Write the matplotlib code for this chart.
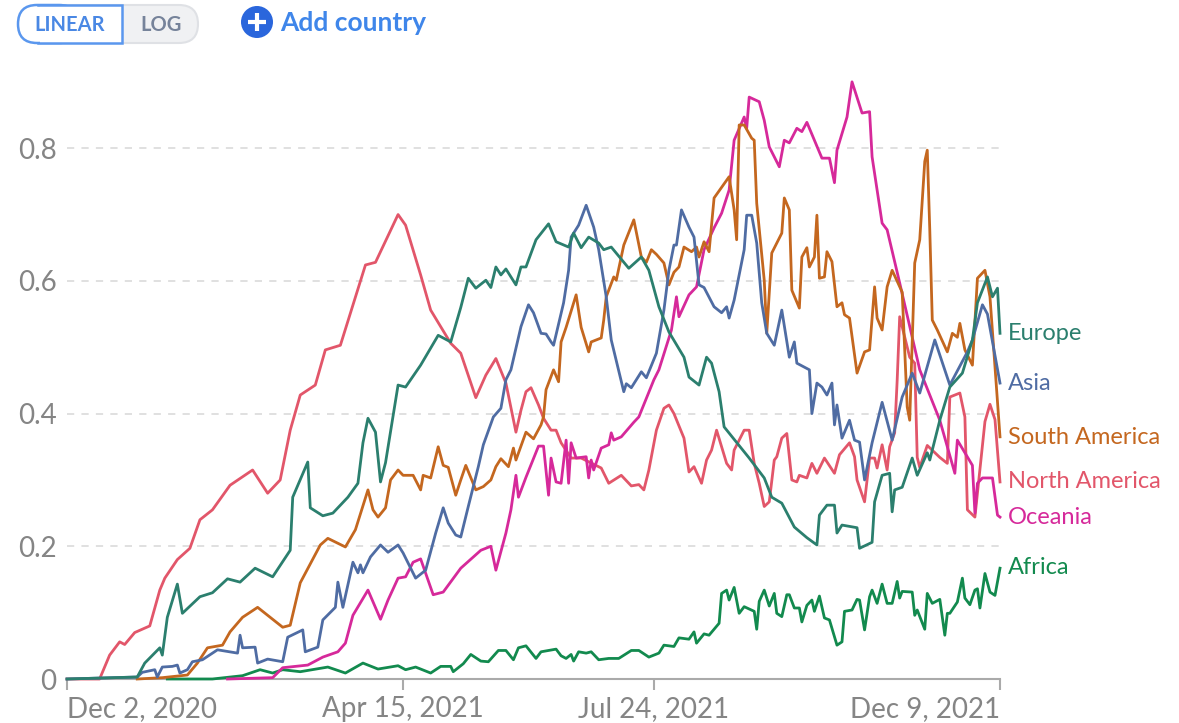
import pandas as pd
import matplotlib.pyplot as plt
import matplotlib.dates as mdates
from matplotlib.patches import Circle, FancyBboxPatch, Rectangle

plt.rcParams['font.family'] = ['Lato', 'DejaVu Sans']

start = pd.Timestamp("2020-12-02")
tick_dates = ["2020-12-02", "2021-04-15", "2021-07-24", "2021-12-09"]
y_ticks = [0, 0.2, 0.4, 0.6, 0.8]

# (days since Dec 2 2020, value)
north_america = [(0,0),(13,0),(17,.036),(21,.056),(23,.052),(27,.07),(33,.08),(37,.134),(39,.152),(44,.18),(49,.197),
    (53,.24),(58,.255),(65,.292),(74,.315),(80,.28),(85,.30),(89,.375),(93,.428),(99,.443),(103,.496),(109,.503),
    (119,.624),(123,.628),(127,.66),(132,.70),(135,.684),(141,.609),(145,.556),(153,.506),(157,.491),(163,.424),
    (167,.458),(171,.483),(175,.446),(179,.372),(181,.405),(183,.433),(185,.439),(188,.413),(190,.393),(193,.375),
    (195,.375),(197,.356),(201,.333),(205,.333),(213,.318),(216,.295),(221,.307),(225,.291),(228,.293),(230,.285),
    (232,.315),(235,.375),(238,.408),(240,.413),(242,.40),(246,.363),(248,.312),(250,.32),(253,.295),(255,.33),
    (257,.345),(259,.375),(263,.325),(265,.315),(266,.345),(270,.375),(272,.375),(274,.325),(276,.295),(278,.26),
    (280,.267),(282,.33),(283,.335),(285,.363),(287,.37),(289,.30),(291,.297),(292,.307),(295,.303),(297,.325),
    (299,.31),(302,.333),(306,.31),(308,.338),(312,.356),(314,.335),(315,.30),(318,.267),(320,.333),(322,.333),
    (323,.318),(325,.353),(327,.315),(328,.35),(330,.371),(331,.45),(332,.546),(336,.485),
    (338,.476),(339,.334),(340,.319),(343,.352),(348,.334),(351,.325),(352,.425),(356,.431),(358,.395),(359,.255),
    (362,.244),(366,.388),(368,.414),(370,.391),(372,.297)]

south_america = [(28,0),(38,.002),(48,.006),(52,.024),(56,.047),(62,.051),(65,.071),(70,.093),(76,.108),(80,.096),
    (86,.078),(89,.081),(93,.145),(101,.202),(104,.212),(111,.199),(115,.225),(120,.285),(122,.255),(124,.244),
    (127,.258),(129,.30),(132,.315),(134,.307),(138,.307),(141,.285),(142,.307),(145,.303),(148,.35),(150,.322),
    (152,.319),(155,.277),(157,.30),(159,.322),(163,.285),(166,.29),(169,.30),(171,.32),(173,.332),(176,.32),
    (178,.348),(179,.33),(183,.372),(186,.362),(189,.383),(190,.395),(191,.436),(194,.466),(196,.448),(197,.508),(199,.53),
    (203,.579),(205,.53),(208,.493),(209,.508),(213,.514),(214,.541),(215,.576),(218,.606),(219,.601),(222,.654),
    (226,.692),(229,.636),(231,.628),(233,.647),(235,.64),(238,.627),(240,.594),(242,.613),(244,.621),(246,.651),
    (249,.644),(251,.651),(252,.636),(254,.659),(256,.644),(258,.725),(264,.757),(266,.707),(267,.662),(268,.835),
    (270,.835),(273,.815),(274,.812),(275,.717),(278,.601),(279,.521),(281,.642),(285,.672),(286,.725),(288,.707),
    (289,.586),(292,.559),(293,.636),(295,.65),(296,.621),(298,.636),(299,.699),(300,.604),(302,.606),(303,.644),
    (305,.629),(307,.561),(309,.567),(310,.549),(312,.544),(315,.461),(318,.493),(320,.496),(322,.591),(323,.544),
    (325,.526),(327,.591),(329,.616),(332,.591),(333,.583),(335,.41),(336,.39),(338,.627),(340,.662),(342,.78),
    (343,.797),(344,.677),(345,.541),(347,.526),(351,.493),(353,.521),(355,.515),(356,.536),(358,.496),(361,.473),
    (363,.604),(366,.616),(368,.576),(372,.365)]

asia = [(0,0),(28,.003),(30,.01),(35,.014),(36,.003),(38,.018),(42,.019),(44,.021),(45,.009),(48,.014),(50,.026),
    (54,.029),(60,.044),(68,.039),(69,.066),(70,.047),(75,.048),(76,.024),(80,.03),(86,.026),(88,.063),(94,.074),
    (95,.041),(100,.048),(102,.089),(107,.108),(108,.146),(110,.108),(114,.176),(116,.16),(117,.172),(118,.16),
    (121,.184),(125,.202),(128,.191),(132,.202),(134,.19),(139,.152),(143,.164),(147,.22),(150,.258),(152,.235),
    (155,.217),(157,.214),(160,.26),(164,.32),(166,.353),(170,.395),(173,.408),(175,.451),(177,.466),(181,.531),
    (184,.564),(186,.552),(189,.521),(191,.52),(193,.508),(194,.503),(198,.567),(200,.616),(201,.666),(204,.684),
    (207,.714),(210,.681),(212,.647),(215,.576),(217,.511),(222,.433),(223,.445),(225,.439),(229,.463),(231,.454),
    (235,.491),(238,.556),(240,.616),(242,.654),(243,.654),(245,.707),(248,.681),(250,.666),(252,.594),(254,.59),
    (258,.561),(261,.552),(263,.561),(264,.544),(266,.571),(270,.647),(271,.699),(273,.699),(275,.657),(277,.567),
    (279,.521),(282,.503),(285,.556),(288,.485),(290,.508),(291,.476),(296,.466),(297,.40),(299,.446),(301,.44),
    (303,.428),(305,.446),(306,.383),(307,.413),(309,.363),(312,.39),(314,.36),(316,.357),(318,.30),(321,.356),
    (325,.417),(329,.36),(333,.425),(337,.461),(340,.431),(346,.511),(352,.443),(359,.493),(361,.511),(365,.564),
    (367,.55),(372,.446)]

europe = [(0,0),(28,.003),(31,.024),(37,.047),(38,.036),(40,.093),(44,.143),(46,.099),(53,.124),(58,.13),(64,.151),
    (69,.146),(75,.167),(82,.154),(89,.194),(90,.274),(96,.327),(97,.258),(102,.246),(106,.25),(112,.274),(116,.295),
    (118,.356),(120,.393),(123,.372),(125,.297),(127,.326),(132,.443),(135,.44),(141,.473),(148,.518),(153,.508),
    (157,.56),(160,.604),(163,.589),(167,.601),(169,.59),(171,.621),(173,.609),(175,.618),(179,.594),(181,.621),
    (183,.621),(187,.662),(192,.686),(195,.659),(200,.651),(202,.672),(205,.65),(208,.666),(212,.657),(214,.647),
    (217,.651),(224,.619),(229,.636),(232,.616),(236,.561),(240,.523),(246,.485),(248,.455),(252,.443),(255,.485),
    (257,.476),(260,.433),(262,.38),(272,.333),(278,.303),(281,.274),(285,.265),(290,.229),(295,.213),(299,.202),
    (300,.247),(303,.262),(306,.262),(307,.22),(309,.232),(315,.228),(316,.197),(321,.206),(322,.267),(325,.307),
    (328,.31),(329,.252),(330,.285),(333,.289),(337,.333),(339,.307),(343,.341),(344,.33),(348,.39),(352,.44),
    (357,.461),(361,.511),(363,.567),(367,.606),(369,.576),(371,.589),(372,.521)]

oceania = [(64,0),(82,.002),(86,.017),(96,.021),(102,.033),(108,.041),(111,.054),(114,.096),(120,.134),(125,.09),
    (128,.119),(132,.152),(135,.154),(138,.176),(141,.181),(146,.127),(150,.131),(157,.167),(165,.194),(169,.2),
    (171,.164),(175,.22),(177,.255),(179,.307),(180,.274),(183,.304),(188,.351),(190,.351),(192,.277),(193,.333),
    (195,.297),(197,.295),(199,.36),(200,.295),(201,.356),(203,.333),(207,.335),(208,.303),(209,.33),(210,.315),
    (213,.348),(216,.353),(217,.371),(218,.36),(221,.365),(226,.387),(228,.395),(234,.451),(236,.466),
    (241,.526),(243,.576),(244,.546),(248,.579),(251,.591),(254,.647),(258,.68),(261,.702),(264,.737),(266,.812),
    (270,.847),(271,.83),(272,.877),(276,.87),(278,.842),(280,.802),(284,.772),(286,.812),(288,.808),(291,.83),
    (293,.825),(295,.839),(301,.785),(304,.785),(306,.748),(307,.797),(311,.847),(313,.9),(317,.853),(320,.855),
    (321,.787),(325,.687),(327,.677),(332,.597),(340,.466),(348,.39),(354,.31),(355,.36),(361,.322),(362,.25),
    (363,.295),(365,.303),(369,.303),(371,.247),(372,.244)]

africa = [(40,0),(58,0),(70,.005),(77,.014),(82,.009),(86,.014),(93,.011),(104,.018),(111,.009),(118,.024),(124,.015),
    (132,.02),(135,.014),(139,.018),(145,.009),(149,.019),(153,.019),(154,.011),(158,.023),(161,.037),(165,.027),
    (168,.026),(172,.043),(175,.043),(178,.029),(180,.047),(183,.05),(187,.031),(189,.041),(195,.045),(197,.035),
    (199,.031),(201,.037),(202,.027),(204,.041),(207,.039),(209,.041),(212,.029),(216,.031),(220,.031),(225,.043),
    (228,.043),(232,.033),(236,.039),(238,.051),(242,.049),(244,.062),(248,.060),(250,.071),(251,.054),(254,.068),
    (256,.066),(260,.084),(261,.129),(263,.134),(264,.119),(266,.138),(268,.099),(270,.109),(274,.102),(275,.075),
    (276,.117),(278,.134),(280,.11),(282,.129),(283,.099),(285,.094),(287,.127),(288,.127),(290,.107),(292,.107),
    (293,.086),(295,.111),(297,.119),(298,.102),(300,.125),(302,.092),(304,.089),(307,.051),(309,.056),(310,.102),
    (313,.104),(315,.12),(316,.119),(318,.074),(320,.124),(321,.134),(323,.114),(325,.143),(327,.114),(329,.114),
    (331,.147),(332,.122),(333,.132),(337,.131),(338,.096),(339,.104),(342,.075),(343,.129),(345,.114),(348,.12),
    (350,.066),(351,.099),(352,.099),(355,.116),(357,.152),(358,.122),(360,.112),(362,.134),(363,.136),(364,.107),
    (366,.159),(368,.131),(370,.126),(372,.167)]

series = [
    ("Africa", africa, "#128a4e", 568),
    ("North America", north_america, "#e2566a", 482),
    ("Oceania", oceania, "#d6299a", 517),
    ("South America", south_america, "#c4671f", 437),
    ("Asia", asia, "#4f6ca3", 383),
    ("Europe", europe, "#2b7f6e", 334),
]

fig = plt.figure(figsize=(11.79, 7.23), dpi=100)
ax = fig.add_axes([67 / 1179, 1 - 679 / 723, 933 / 1179, 619 / 723])

for name, points, color, label_y in series:
    days, values = zip(*points)
    dates = start + pd.to_timedelta(list(days), unit="D")
    ax.plot(dates, values, color=color, lw=2.0, solid_joinstyle="round", clip_on=False, zorder=3)

ax.set_xlim(start, pd.Timestamp(tick_dates[-1]))
ax.set_ylim(0, 619 / 663.5)

ax.set_yticks(y_ticks)
ax.set_yticklabels(["0", "0.2", "0.4", "0.6", "0.8"], fontsize=20, color="#858585")
ax.tick_params(axis="y", length=0, pad=7.5)
ax.grid(axis="y", color="#dddddd", lw=1.3, ls=(0, (4, 4)))
ax.set_axisbelow(True)

ax.set_xticks(pd.to_datetime(tick_dates))
ax.xaxis.set_major_formatter(mdates.DateFormatter("%b %-d, %Y"))
ax.tick_params(axis="x", length=8, width=1.5, color="#aaaaaa", labelsize=20, labelcolor="#858585", pad=4)
labels = ax.get_xticklabels()
labels[0].set_ha("left")
labels[-1].set_ha("right")

for side in ["top", "left", "right"]:
    ax.spines[side].set_visible(False)
ax.spines["bottom"].set_color("#aaaaaa")
ax.spines["bottom"].set_linewidth(1.5)

# overlay in picture pixels for the controls and the end labels
ui = fig.add_axes([0, 0, 1, 1], facecolor="none")
ui.set_xlim(0, 1179)
ui.set_ylim(723, 0)
ui.axis("off")

for name, points, color, label_y in series:
    ui.text(1008, label_y, name, color=color, fontsize=17, va="center", ha="left")

ui.add_patch(FancyBboxPatch((40, 5), 158, 38, boxstyle="round,pad=0,rounding_size=19",
                            fc="#f0f1f3", ec="#dfe1e5", lw=1.5))
ui.add_patch(FancyBboxPatch((18, 5), 60, 38, boxstyle="round,pad=0,rounding_size=19",
                            fc="white", ec="#5a97ee", lw=1.8))
ui.add_patch(Rectangle((40, 5), 82, 38, fc="white", ec="none"))
ui.plot([38, 122, 122, 38], [5, 5, 43, 43], color="#5a97ee", lw=1.8, solid_joinstyle="miter")
ui.text(70, 25, "LINEAR", color="#4a88e4", fontsize=14.5, fontweight="bold", ha="center", va="center")
ui.text(161, 25, "LOG", color="#76839a", fontsize=14.5, fontweight="bold", ha="center", va="center")

ui.add_patch(Circle((257, 22), 16, fc="#2a66dc", ec="none"))
ui.plot([248, 266], [22, 22], color="white", lw=3, solid_capstyle="butt")
ui.plot([257, 257], [13, 31], color="white", lw=3, solid_capstyle="butt")
ui.text(280, 23, "Add country", color="#3f86ea", fontsize=19, fontweight="bold", ha="left", va="center")

fig.savefig("out.png", dpi=100)
